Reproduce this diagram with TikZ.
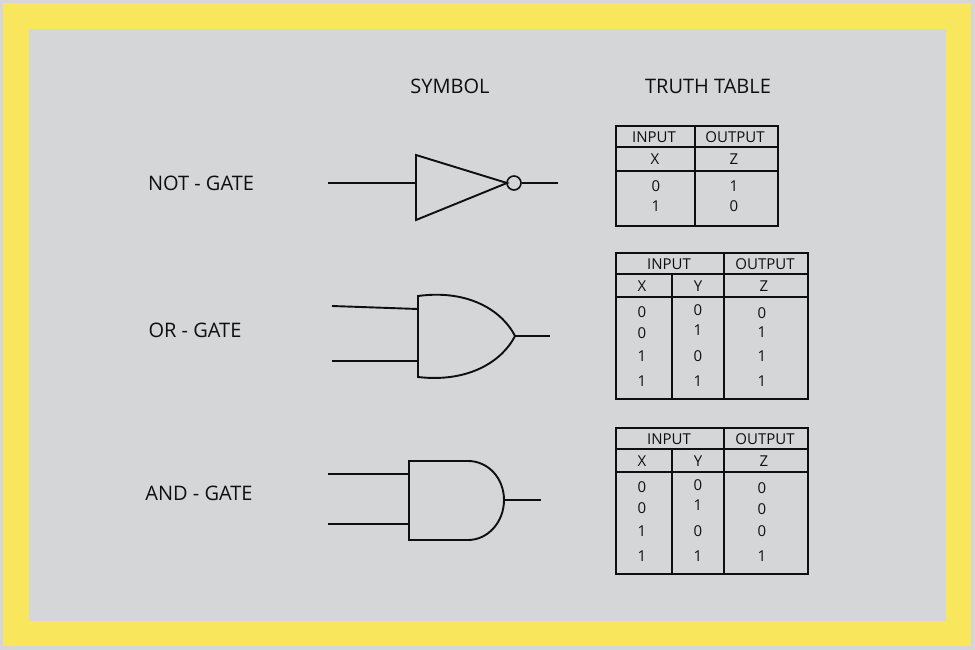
\documentclass[tikz,border=0pt]{standalone}
\usepackage{fontspec}
\setmainfont{Open Sans}
\definecolor{panel}{RGB}{213,214,216}
\definecolor{frame}{RGB}{248,230,92}
\definecolor{ink}{RGB}{15,15,15}
\begin{document}
\begin{tikzpicture}[x=1pt, y=-1pt, line width=1.9pt, draw=ink,
	lbl/.style={font=\fontsize{20}{24}\selectfont, text=ink, inner sep=0pt},
	cell/.style={font=\fontsize{15}{17}\selectfont, text=ink, inner sep=0pt},
	bubble/.style={circle, draw=ink, line width=1.6pt, inner sep=0pt, minimum size=14pt}]
	% background and frame
	\fill[panel] (0,0) rectangle (975,650);
	\fill[frame] (3,3) rectangle (971,646);
	\fill[panel] (29,29) rectangle (946,621);
	\useasboundingbox (0,0) rectangle (975,650);
	% headings
	\node[lbl] (symbol) at (450,86) {SYMBOL};
	\node[lbl] (truth) at (708,86) {TRUTH TABLE};
	\node[lbl] (notlbl) at (201,183) {NOT - GATE};
	\node[lbl] (orlbl) at (195,330) {OR - GATE};
	\node[lbl] (andlbl) at (199,493) {AND - GATE};
	% not gate
	\coordinate (nin) at (328,183);
	\coordinate (nback) at (416,183);
	\coordinate (nout) at (558,183);
	\draw[line join=miter] (416,155) -- (507,183) -- (416,220) -- cycle;
	\node[bubble] (bub) at (514,183) {};
	\draw (nin) -- (nback);
	\draw (bub) -- (nout);
	% or gate
	\coordinate (oina) at (332,306);
	\coordinate (oinb) at (332,361);
	\coordinate (obacka) at (418,309);
	\coordinate (obackb) at (418,361);
	\coordinate (otip) at (515,336);
	\coordinate (oout) at (550,336);
	\draw (418,296) .. controls (470,289) and (503,312) .. (otip)
		.. controls (503,360) and (470,383) .. (418,377) -- cycle;
	\draw (oina) -- (obacka);
	\draw (oinb) -- (obackb);
	\draw (otip) -- (oout);
	% and gate
	\coordinate (aina) at (328,474);
	\coordinate (ainb) at (328,524);
	\coordinate (abacka) at (409,474);
	\coordinate (abackb) at (409,524);
	\coordinate (atip) at (504,500);
	\coordinate (aout) at (541,500);
	\draw (468,461) -- (409,461) -- (409,540) -- (468,540)
		.. controls (488,540) and (504,522) .. (atip)
		.. controls (504,478) and (488,461) .. (468,461);
	\draw (aina) -- (abacka);
	\draw (ainb) -- (abackb);
	\draw (atip) -- (aout);
	% truth table: not
	\draw (616,126) rectangle (778,226);
	\draw (695,126) -- (695,226);
	\draw (616,147) -- (778,147);
	\draw (616,171) -- (778,171);
	\node[cell] (nti) at (654,137) {INPUT};
	\node[cell] (nto) at (735,137) {OUTPUT};
	\node[cell] (ntx) at (655,159) {X};
	\node[cell] (ntz) at (734,159) {Z};
	\node[cell] (ntxa) at (656,186) {0};
	\node[cell] (ntxb) at (656,206) {1};
	\node[cell] (ntza) at (734,186) {1};
	\node[cell] (ntzb) at (734,206) {0};
	% truth table: or
	\draw (616,253) rectangle (808,399);
	\draw (724,253) -- (724,399);
	\draw (672,274) -- (672,399);
	\draw (616,274) -- (808,274);
	\draw (616,297) -- (808,297);
	\node[cell] (oti) at (669,264) {INPUT};
	\node[cell] (oto) at (765,264) {OUTPUT};
	\node[cell] (otx) at (642,286) {X};
	\node[cell] (oty) at (698,286) {Y};
	\node[cell] (otz) at (764,286) {Z};
	\node[cell] (otxa) at (642,312) {0};
	\node[cell] (otxb) at (642,333) {0};
	\node[cell] (otxc) at (642,356) {1};
	\node[cell] (otxd) at (642,381) {1};
	\node[cell] (otya) at (698,310) {0};
	\node[cell] (otyb) at (698,330) {1};
	\node[cell] (otyc) at (698,356) {0};
	\node[cell] (otyd) at (698,381) {1};
	\node[cell] (otza) at (762,313) {0};
	\node[cell] (otzb) at (762,332) {1};
	\node[cell] (otzc) at (762,356) {1};
	\node[cell] (otzd) at (762,381) {1};
	% truth table: and
	\draw (616,428) rectangle (808,574);
	\draw (724,428) -- (724,574);
	\draw (672,449) -- (672,574);
	\draw (616,449) -- (808,449);
	\draw (616,472) -- (808,472);
	\node[cell] (ati) at (669,439) {INPUT};
	\node[cell] (ato) at (765,439) {OUTPUT};
	\node[cell] (atx) at (642,461) {X};
	\node[cell] (aty) at (698,461) {Y};
	\node[cell] (atz) at (764,461) {Z};
	\node[cell] (atxa) at (642,487) {0};
	\node[cell] (atxb) at (642,508) {0};
	\node[cell] (atxc) at (642,531) {1};
	\node[cell] (atxd) at (642,556) {1};
	\node[cell] (atya) at (698,485) {0};
	\node[cell] (atyb) at (698,505) {1};
	\node[cell] (atyc) at (698,531) {0};
	\node[cell] (atyd) at (698,556) {1};
	\node[cell] (atza) at (762,488) {0};
	\node[cell] (atzb) at (762,509) {0};
	\node[cell] (atzc) at (762,531) {0};
	\node[cell] (atzd) at (762,556) {1};
\end{tikzpicture}
\end{document}
